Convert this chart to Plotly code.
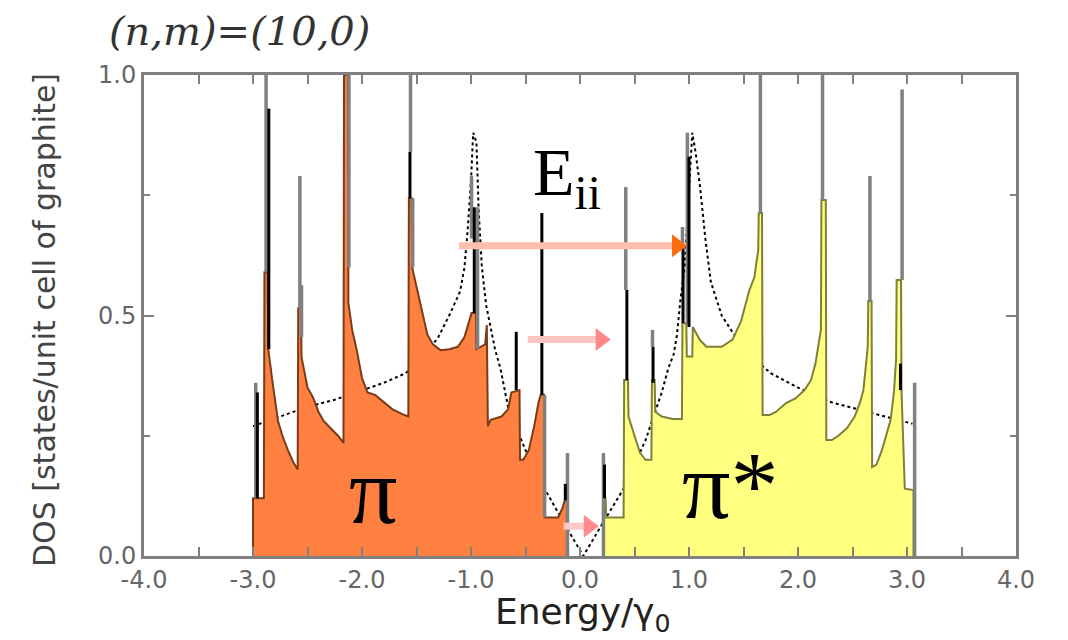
import plotly.graph_objects as go

# ---------------- data ----------------
# valence band (pi) DOS profile, filled orange
pi_x = [-3.0, -3.0, -2.90, -2.895, -2.865, -2.86, -2.82, -2.77, -2.73, -2.68, -2.63, -2.59,
        -2.585, -2.56, -2.555, -2.50, -2.45, -2.40, -2.35, -2.29, -2.22, -2.17,
        -2.165, -2.13, -2.125, -2.09, -2.05, -2.00, -1.95, -1.88, -1.80, -1.72, -1.63, -1.575,
        -1.57, -1.545, -1.54, -1.49, -1.45, -1.40, -1.35, -1.28, -1.20, -1.12, -1.06, -1.01,
        -0.995, -0.955, -0.95, -0.87, -0.855, -0.845, -0.82, -0.72, -0.66, -0.63, -0.555,
        -0.55, -0.52, -0.47, -0.42, -0.38, -0.36, -0.33, -0.325, -0.20, -0.16, -0.14, -0.12, -0.115]
pi_y = [0.0, 0.12, 0.12, 0.59, 0.59, 0.43, 0.36, 0.28, 0.25, 0.22, 0.195, 0.18,
        0.515, 0.515, 0.414, 0.35, 0.33, 0.30, 0.28, 0.266, 0.25, 0.235,
        1.0, 1.0, 0.526, 0.47, 0.43, 0.37, 0.34, 0.335, 0.32, 0.305, 0.295, 0.29,
        0.744, 0.744, 0.60, 0.55, 0.505, 0.46, 0.44, 0.428, 0.43, 0.435, 0.455, 0.49,
        0.505, 0.505, 0.43, 0.44, 0.48, 0.27, 0.283, 0.29, 0.305, 0.34, 0.345,
        0.20, 0.20, 0.22, 0.27, 0.32, 0.335, 0.335, 0.08, 0.08, 0.10, 0.116, 0.116, 0.0]

# conduction band (pi*) DOS profile, filled yellow
pistar_x = [0.215, 0.215, 0.235, 0.24, 0.40, 0.405, 0.44, 0.445, 0.50, 0.55, 0.60, 0.655,
            0.66, 0.685, 0.69, 0.75, 0.85, 0.935, 0.94, 0.975, 0.98, 1.03, 1.035, 1.10, 1.16,
            1.30, 1.40, 1.48, 1.55, 1.60, 1.635, 1.64, 1.67, 1.675, 1.74, 1.80, 1.89, 1.98,
            2.06, 2.12, 2.16, 2.19, 2.21, 2.215, 2.255, 2.26, 2.31, 2.37, 2.45, 2.52, 2.57,
            2.60, 2.62, 2.64, 2.645, 2.675, 2.68, 2.72, 2.77, 2.81, 2.85, 2.88, 2.90, 2.905,
            2.945, 2.95, 2.98, 3.06, 3.06]
pistar_y = [0.0, 0.12, 0.12, 0.08, 0.08, 0.366, 0.366, 0.29, 0.25, 0.215, 0.20, 0.20,
            0.366, 0.366, 0.30, 0.29, 0.285, 0.285, 0.484, 0.484, 0.415, 0.415, 0.476, 0.449, 0.435,
            0.435, 0.45, 0.49, 0.55, 0.58, 0.636, 0.713, 0.713, 0.293, 0.293, 0.30, 0.318, 0.328,
            0.345, 0.366, 0.40, 0.44, 0.47, 0.74, 0.74, 0.241, 0.241, 0.25, 0.266, 0.29, 0.32,
            0.345, 0.39, 0.435, 0.53, 0.53, 0.185, 0.19, 0.22, 0.25, 0.283, 0.34, 0.41, 0.574,
            0.574, 0.34, 0.14, 0.137, 0.0]

# graphite DOS (dotted curve)
graphite_x = [-3.0, -2.75, -2.5, -2.25, -2.0, -1.8, -1.6, -1.45, -1.3, -1.2, -1.1, -1.06, -1.03,
              -1.0, -0.98, -0.95, -0.93, -0.9, -0.86, -0.82, -0.78, -0.73, -0.66, -0.5, -0.3,
              -0.15, 0.03, 0.2, 0.4, 0.6, 0.75, 0.81, 0.86, 0.89, 0.92, 0.96, 1.0, 1.03, 1.06,
              1.1, 1.15, 1.2, 1.3, 1.4, 1.5, 1.75, 2.0, 2.3, 2.55, 2.8, 3.05]
graphite_y = [0.27, 0.29, 0.31, 0.325, 0.345, 0.36, 0.38, 0.41, 0.455, 0.5, 0.55, 0.6, 0.68,
              0.78, 0.88, 0.86, 0.72, 0.6, 0.52, 0.476, 0.43, 0.39, 0.31, 0.22, 0.13,
              0.07, 0.0, 0.065, 0.14, 0.24, 0.34, 0.39, 0.42, 0.46, 0.53, 0.6, 0.75, 0.88, 0.84,
              0.77, 0.66, 0.57, 0.5, 0.465, 0.43, 0.38, 0.35, 0.32, 0.305, 0.29, 0.275]

# van Hove spikes of the tube DOS (grey) : position, bottom, top
gray_spike_x = [-2.975, -2.88, -2.57, -2.555, -2.12, -1.555, -1.535, -0.94, -0.995, -0.325, -0.115,
                0.215, 0.42, 0.665, 0.94, 0.985, 1.655, 2.225, 2.66, 2.955, 3.07]
gray_spike_lo = [0.12, 0.59, 0.515, 0.455, 0.60, 0.84, 0.60, 0.43, 0.66, 0.08, 0.0,
                 0.0, 0.553, 0.435, 0.64, 0.48, 0.713, 0.74, 0.53, 0.574, 0.0]
gray_spike_hi = [0.36, 1.0, 0.79, 0.563, 1.0, 1.0, 0.744, 0.725, 0.79, 0.335, 0.214,
                 0.214, 0.767, 0.47, 0.684, 0.88, 1.0, 1.0, 0.79, 0.97, 0.36]

# black spike segments
black_spike_x = [-2.96, -2.855, -1.56, -0.97, -0.585, -0.35, -0.135,
                 0.225, 0.43, 0.67, 0.945, 1.0, 2.94]
black_spike_lo = [0.12, 0.43, 0.744, 0.505, 0.345, 0.335, 0.116,
                  0.12, 0.366, 0.36, 0.484, 0.476, 0.345]
black_spike_hi = [0.34, 0.93, 0.84, 0.725, 0.466, 0.713, 0.15,
                  0.19, 0.553, 0.435, 0.64, 0.83, 0.40]

# transition arrows
arrow_tail_x = [-1.11, -0.48, -0.15]
arrow_tip_x = [0.97, 0.27, 0.16]
arrow_y = [0.645, 0.45, 0.062]
arrow_line_color = ["#ffbfae", "#ffc4c4", "#ffc8c8"]
arrow_head_color = ["#ff6a10", "#ff8888", "#ff8c8c"]

x_tick_vals = [-4, -3, -2, -1, 0, 1, 2, 3, 4]
x_tick_text = ["-4.0", "-3.0", "-2.0", "-1.0", "0.0", "1.0", "2.0", "3.0", "4.0"]
y_tick_vals = [0.0, 0.5, 1.0]
y_tick_text = ["0.0", "0.5", "1.0"]

# ---------------- figure ----------------
fig = go.Figure()

fig.add_trace(go.Scatter(x=graphite_x, y=graphite_y, mode="lines",
                         line=dict(color="black", width=2, dash="dot"), hoverinfo="skip"))

fig.add_trace(go.Scatter(x=pi_x, y=pi_y, mode="lines", fill="toself", fillcolor="#ff8040",
                         line=dict(color="#7a3b17", width=2)))
fig.add_trace(go.Scatter(x=pistar_x, y=pistar_y, mode="lines", fill="toself", fillcolor="#ffff80",
                         line=dict(color="#7f7f38", width=2)))


def segments(xs, lo, hi):
    sx, sy = [], []
    for x, a, b in zip(xs, lo, hi):
        sx += [x, x, None]
        sy += [a, b, None]
    return sx, sy


gx, gy = segments(gray_spike_x, gray_spike_lo, gray_spike_hi)
fig.add_trace(go.Scatter(x=gx, y=gy, mode="lines", line=dict(color="#808080", width=3.5)))
bx, by = segments(black_spike_x, black_spike_lo, black_spike_hi)
fig.add_trace(go.Scatter(x=bx, y=by, mode="lines", line=dict(color="black", width=3)))

for x0, x1, y, lc, hc in zip(arrow_tail_x, arrow_tip_x, arrow_y, arrow_line_color, arrow_head_color):
    fig.add_trace(go.Scatter(x=[x0, x1 - 0.1], y=[y, y], mode="lines",
                             line=dict(color=lc, width=7)))
    fig.add_trace(go.Scatter(x=[x1 - 0.08], y=[y], mode="markers",
                             marker=dict(symbol="triangle-right", size=20, color=hc,
                                         line=dict(width=0))))

fig.update_layout(
    width=1068, height=640,
    margin=dict(l=144, r=52, t=75, b=84),
    paper_bgcolor="white", plot_bgcolor="white",
    showlegend=False,
    xaxis=dict(range=[-4, 4], tickvals=x_tick_vals, ticktext=x_tick_text,
               showline=True, mirror="allticks", linecolor="#808080", linewidth=3,
               ticks="inside", ticklen=9, tickwidth=2, tickcolor="#808080",
               minor=dict(dtick=0.5, ticks="inside", ticklen=9, tickwidth=2, tickcolor="#808080"),
               showgrid=False, zeroline=False,
               tickfont=dict(family="DejaVu Sans", size=24, color="#666666")),
    yaxis=dict(range=[0, 1], tickvals=y_tick_vals, ticktext=y_tick_text,
               showline=True, mirror="allticks", linecolor="#808080", linewidth=3,
               ticks="inside", ticklen=10, tickwidth=2, tickcolor="#808080",
               minor=dict(dtick=0.25, ticks="inside", ticklen=6, tickwidth=2, tickcolor="#808080"),
               showgrid=False, zeroline=False,
               tickfont=dict(family="DejaVu Sans", size=24, color="#666666")),
)

annotations = [
    dict(text="<i>(n,m)=(10,0)</i>", xref="paper", yref="paper", x=-0.0424, y=1.0915,
         xanchor="left", yanchor="middle", showarrow=False,
         font=dict(family="DejaVu Serif", size=40, color="#333333")),
    dict(text="DOS [states/unit cell of graphite]", xref="paper", yref="paper",
         x=-0.1147, y=0.4906, xanchor="center", yanchor="middle", textangle=-90, showarrow=False,
         font=dict(family="DejaVu Sans", size=30, color="#444444")),
    dict(text="Energy/γ<sub>0</sub>", xref="paper", yref="paper", x=0.503, y=-0.122,
         xanchor="center", yanchor="middle", showarrow=False,
         font=dict(family="DejaVu Sans", size=36, color="#222222")),
    dict(text="E<sub>ii</sub>", xref="x", yref="y", x=-0.12, y=0.79,
         xanchor="center", yanchor="middle", showarrow=False,
         font=dict(family="Liberation Serif", size=68, color="black")),
    dict(text="π", xref="x", yref="y", x=-1.895, y=0.137,
         xanchor="center", yanchor="middle", showarrow=False,
         font=dict(family="Liberation Serif", size=96, color="black")),
    dict(text="π*", xref="x", yref="y", x=1.372, y=0.147,
         xanchor="center", yanchor="middle", showarrow=False,
         font=dict(family="Liberation Serif", size=96, color="black")),
]
fig.update_layout(annotations=annotations)

fig.write_html("out.html")
